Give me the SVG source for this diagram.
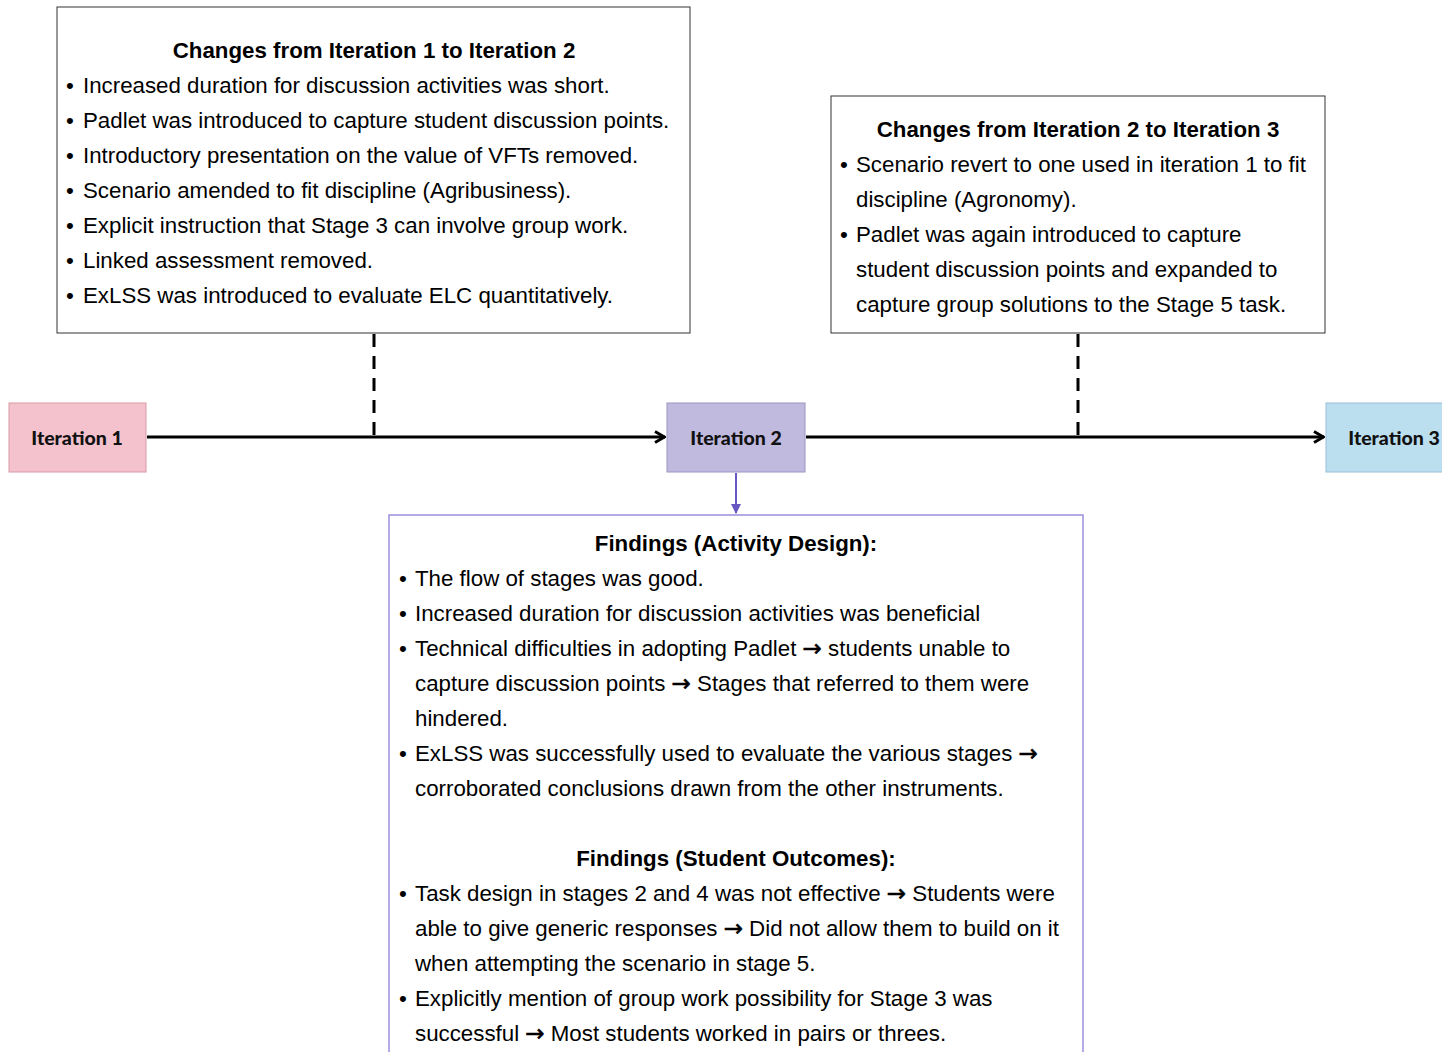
<svg xmlns="http://www.w3.org/2000/svg" width="1442" height="1052" viewBox="0 0 1442 1052">
  <defs>
    <style>
      .box { fill: #ffffff; stroke: #333333; stroke-width: 1; }
      .fbox { fill: #ffffff; stroke: #9a8fe0; stroke-width: 1.5; }
      .t { font-family: "Liberation Sans", Arial, sans-serif; font-size: 22.3px; fill: #000000; }
      .h { font-family: "Liberation Sans", Arial, sans-serif; font-size: 22.3px; font-weight: bold; fill: #000000; text-anchor: middle; }
      .ar { font-family: "DejaVu Sans", sans-serif; font-size: 23px; stroke: #000000; stroke-width: 0.6; }
      .it { font-family: "Lato", "DejaVu Sans", sans-serif; font-size: 19.5px; font-weight: 900; fill: #111111; text-anchor: middle; }
      .flow { stroke: #000000; stroke-width: 3; fill: none; }
      .dash { stroke: #000000; stroke-width: 3; stroke-dasharray: 13 9; fill: none; }
    </style>
    <marker id="openHead" viewBox="0 0 14 14" refX="13" refY="7" markerWidth="14" markerHeight="14" markerUnits="userSpaceOnUse" orient="auto">
      <path d="M3,1.5 L12.5,7 L3,12.5" fill="none" stroke="#000000" stroke-width="3"/>
    </marker>
    <marker id="purpleHead" viewBox="0 0 10 10" refX="9" refY="5" markerWidth="10" markerHeight="10" markerUnits="userSpaceOnUse" orient="auto">
      <path d="M0,0 L10,5 L0,10 Z" fill="#6a55c4"/>
    </marker>
  </defs>

  <!-- connectors -->
  <g id="connectors">
    <line class="dash" x1="374" y1="334" x2="374" y2="435"/>
    <line class="dash" x1="1078" y1="334" x2="1078" y2="435"/>
    <line class="flow" x1="147" y1="437" x2="665" y2="437" marker-end="url(#openHead)"/>
    <line class="flow" x1="806" y1="437" x2="1324" y2="437" marker-end="url(#openHead)"/>
    <line x1="736" y1="473" x2="736" y2="513" stroke="#6a55c4" stroke-width="2" marker-end="url(#purpleHead)"/>
  </g>

  <!-- changes from iteration 1 to 2 -->
  <g id="changes-1-2">
    <rect class="box" x="57" y="7" width="633" height="326"/>
    <text class="h" x="374" y="58">Changes from Iteration 1 to Iteration 2</text>
    <text class="t" x="66" y="93">•</text><text class="t" x="83" y="93">Increased duration for discussion activities was short.</text>
    <text class="t" x="66" y="128">•</text><text class="t" x="83" y="128">Padlet was introduced to capture student discussion points.</text>
    <text class="t" x="66" y="163">•</text><text class="t" x="83" y="163">Introductory presentation on the value of VFTs removed.</text>
    <text class="t" x="66" y="198">•</text><text class="t" x="83" y="198">Scenario amended to fit discipline (Agribusiness).</text>
    <text class="t" x="66" y="233">•</text><text class="t" x="83" y="233">Explicit instruction that Stage 3 can involve group work.</text>
    <text class="t" x="66" y="268">•</text><text class="t" x="83" y="268">Linked assessment removed.</text>
    <text class="t" x="66" y="303">•</text><text class="t" x="83" y="303">ExLSS was introduced to evaluate ELC quantitatively.</text>
  </g>

  <!-- changes from iteration 2 to 3 -->
  <g id="changes-2-3">
    <rect class="box" x="831" y="96" width="494" height="237"/>
    <text class="h" x="1078" y="137">Changes from Iteration 2 to Iteration 3</text>
    <text class="t" x="840" y="172">•</text><text class="t" x="856" y="172">Scenario revert to one used in iteration 1 to fit</text>
    <text class="t" x="856" y="207">discipline (Agronomy).</text>
    <text class="t" x="840" y="242">•</text><text class="t" x="856" y="242">Padlet was again introduced to capture</text>
    <text class="t" x="856" y="277">student discussion points and expanded to</text>
    <text class="t" x="856" y="312">capture group solutions to the Stage 5 task.</text>
  </g>

  <!-- iteration nodes -->
  <g id="iteration-1">
    <rect x="9" y="403" width="137" height="69" fill="#f4c2cd" stroke="#d99aa8" stroke-width="1"/>
    <text class="it" x="77" y="445">Iteration 1</text>
  </g>
  <g id="iteration-2">
    <rect x="667" y="403" width="138" height="69" fill="#c1badf" stroke="#9a93c4" stroke-width="1"/>
    <text class="it" x="736" y="445">Iteration 2</text>
  </g>
  <g id="iteration-3">
    <rect x="1326" y="403" width="120" height="69" fill="#bcdff0" stroke="#95bfd6" stroke-width="1"/>
    <text class="it" x="1394" y="445">Iteration 3</text>
  </g>

  <!-- findings -->
  <g id="findings">
    <rect class="fbox" x="389" y="515" width="694" height="560"/>
    <text class="h" x="736" y="551">Findings (Activity Design):</text>
    <text class="t" x="399" y="586">•</text><text class="t" x="415" y="586">The flow of stages was good.</text>
    <text class="t" x="399" y="621">•</text><text class="t" x="415" y="621">Increased duration for discussion activities was beneficial</text>
    <text class="t" x="399" y="656">•</text><text class="t" x="415" y="656">Technical difficulties in adopting Padlet <tspan class="ar">→</tspan> students unable to</text>
    <text class="t" x="415" y="691">capture discussion points <tspan class="ar">→</tspan> Stages that referred to them were</text>
    <text class="t" x="415" y="726">hindered.</text>
    <text class="t" x="399" y="761">•</text><text class="t" x="415" y="761">ExLSS was successfully used to evaluate the various stages <tspan class="ar">→</tspan></text>
    <text class="t" x="415" y="796">corroborated conclusions drawn from the other instruments.</text>
    <text class="h" x="736" y="866">Findings (Student Outcomes):</text>
    <text class="t" x="399" y="901">•</text><text class="t" x="415" y="901">Task design in stages 2 and 4 was not effective <tspan class="ar">→</tspan> Students were</text>
    <text class="t" x="415" y="936">able to give generic responses <tspan class="ar">→</tspan> Did not allow them to build on it</text>
    <text class="t" x="415" y="971">when attempting the scenario in stage 5.</text>
    <text class="t" x="399" y="1006">•</text><text class="t" x="415" y="1006">Explicitly mention of group work possibility for Stage 3 was</text>
    <text class="t" x="415" y="1041">successful <tspan class="ar">→</tspan> Most students worked in pairs or threes.</text>
  </g>
</svg>
